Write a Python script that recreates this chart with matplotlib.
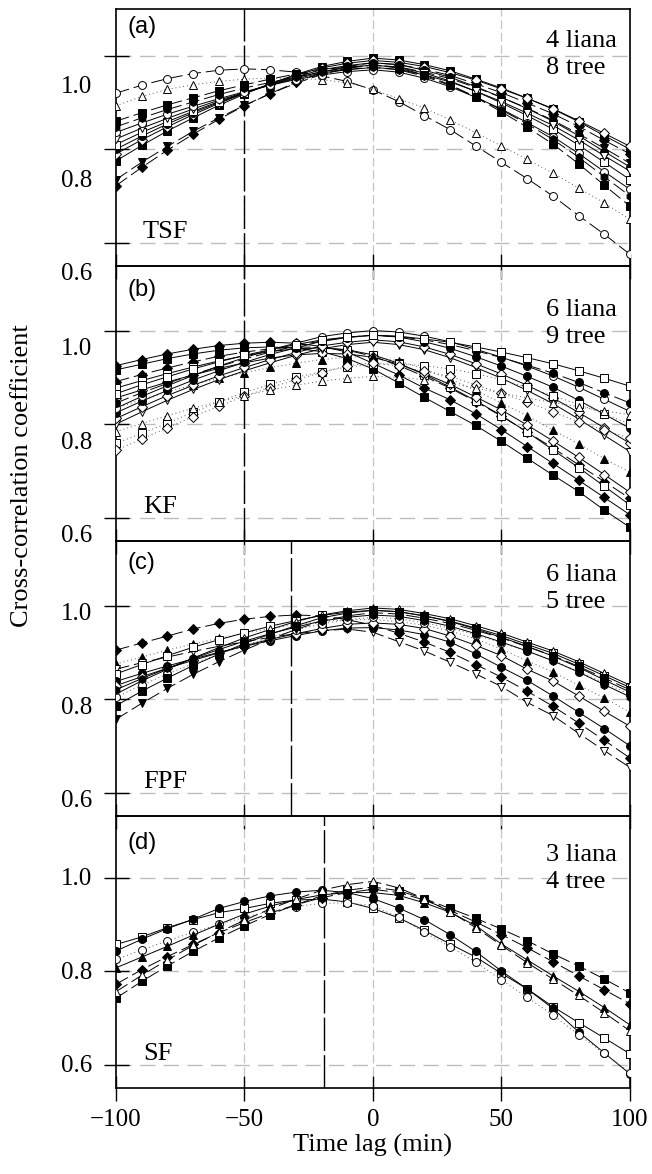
import matplotlib
matplotlib.use('Agg')
import matplotlib.pyplot as plt
from matplotlib.transforms import ScaledTranslation

plt.rcParams['font.family'] = ['Liberation Serif', 'DejaVu Serif']

# time lag (min)
lags = list(range(-100, 101, 10))

sites = ['TSF', 'KF', 'FPF', 'SF']
panel_tags = ['(a)', '(b)', '(c)', '(d)']
counts = ['4 liana\n8 tree', '6 liana\n9 tree', '6 liana\n5 tree', '3 liana\n4 tree']
peak_lag = [-50, -50, -32, -19]

# cross-correlation coefficients, one row per individual
tsf = [
    [.920, .937, .951, .962, .969, .972, .970, .965, .957, .945, .927, .902, .872, .842, .807, .772, .737, .700, .658, .618, .575],
    [.893, .913, .928, .938, .945, .950, .952, .952, .949, .942, .928, .908, .888, .863, .835, .807, .778, .749, .717, .685, .650],
    [.722, .761, .798, .832, .864, .893, .919, .943, .964, .977, .985, .981, .971, .958, .940, .921, .899, .876, .849, .819, .790],
    [.735, .772, .806, .838, .867, .894, .919, .941, .960, .973, .980, .976, .965, .951, .932, .911, .888, .862, .833, .802, .770],
    [.775, .808, .839, .867, .894, .918, .940, .960, .977, .988, .995, .991, .981, .968, .950, .931, .909, .886, .859, .829, .800],
    [.790, .820, .848, .874, .898, .920, .940, .958, .974, .984, .990, .986, .977, .964, .948, .929, .909, .887, .861, .834, .806],
    [.800, .828, .854, .878, .900, .920, .939, .955, .970, .979, .985, .981, .969, .954, .934, .911, .887, .860, .829, .795, .762],
    [.810, .836, .859, .881, .902, .921, .938, .953, .966, .975, .980, .975, .963, .946, .924, .899, .872, .843, .809, .772, .735],
    [.822, .845, .866, .886, .905, .921, .937, .951, .963, .970, .975, .971, .959, .944, .924, .902, .877, .851, .820, .786, .753],
    [.836, .856, .875, .892, .908, .923, .937, .949, .959, .966, .970, .965, .952, .934, .911, .886, .857, .827, .791, .752, .714],
    [.848, .867, .885, .901, .917, .931, .943, .955, .965, .971, .975, .970, .956, .937, .912, .884, .854, .821, .783, .741, .700],
    [.860, .878, .895, .910, .925, .938, .950, .961, .970, .976, .980, .974, .959, .938, .911, .880, .847, .811, .769, .723, .678],
]

kf = [
    [.916, .928, .940, .950, .958, .963, .965, .962, .955, .940, .918, .888, .857, .827, .797, .763, .727, .691, .656, .616, .579],
    [.925, .938, .950, .960, .968, .973, .975, .973, .966, .954, .930, .905, .877, .852, .822, .788, .752, .716, .680, .643, .606],
    [.891, .906, .920, .933, .945, .954, .961, .965, .964, .958, .945, .925, .902, .877, .848, .817, .783, .749, .713, .677, .641],
    [.877, .893, .908, .922, .935, .946, .955, .961, .963, .959, .948, .930, .906, .879, .850, .818, .783, .745, .707, .667, .627],
    [.856, .873, .890, .905, .919, .931, .941, .948, .951, .950, .943, .928, .908, .885, .858, .830, .798, .764, .729, .692, .654],
    [.834, .852, .869, .884, .898, .910, .921, .930, .938, .943, .945, .935, .918, .896, .872, .845, .818, .787, .758, .726, .697],
    [.800, .826, .851, .874, .895, .914, .931, .947, .961, .970, .975, .970, .959, .942, .921, .898, .872, .844, .811, .776, .741],
    [.812, .837, .861, .883, .903, .921, .938, .953, .967, .975, .980, .976, .965, .949, .929, .907, .883, .856, .825, .792, .759],
    [.824, .849, .872, .894, .914, .932, .949, .963, .977, .985, .990, .986, .976, .962, .944, .924, .902, .879, .851, .821, .791],
    [.834, .859, .882, .904, .924, .942, .959, .973, .987, .995, 1.00, .997, .988, .976, .960, .943, .924, .903, .879, .853, .827],
    [.845, .867, .887, .906, .923, .939, .954, .967, .978, .986, .990, .987, .980, .970, .957, .942, .926, .909, .889, .867, .845],
    [.865, .884, .901, .918, .933, .947, .959, .970, .980, .986, .990, .988, .982, .975, .965, .954, .942, .929, .914, .898, .881],
    [.759, .780, .802, .825, .848, .868, .885, .900, .912, .922, .928, .929, .925, .918, .908, .895, .879, .861, .842, .822, .800],
    [.744, .768, .792, .816, .838, .860, .878, .895, .910, .925, .931, .924, .913, .902, .884, .866, .847, .826, .805, .787, .770],
    [.784, .801, .818, .834, .848, .861, .873, .883, .892, .898, .902, .900, .895, .887, .877, .866, .856, .846, .837, .828, .820],
]

fpf = [
    [.905, .920, .935, .950, .962, .971, .977, .980, .978, .970, .958, .941, .922, .900, .874, .847, .817, .785, .749, .712, .674],
    [.875, .890, .905, .918, .930, .941, .951, .960, .966, .970, .970, .966, .958, .946, .929, .907, .882, .858, .830, .803, .772],
    [.864, .878, .890, .902, .913, .923, .932, .940, .946, .950, .943, .923, .903, .879, .854, .827, .793, .765, .727, .690, .654],
    [.854, .874, .893, .911, .927, .942, .956, .968, .979, .986, .990, .987, .978, .967, .952, .936, .917, .898, .875, .850, .825],
    [.838, .855, .871, .886, .900, .913, .925, .936, .946, .952, .953, .948, .938, .922, .897, .868, .840, .807, .772, .737, .700],
    [.829, .848, .866, .883, .899, .914, .928, .940, .951, .960, .963, .960, .951, .935, .915, .893, .864, .839, .807, .774, .742],
    [.811, .839, .864, .888, .910, .931, .949, .966, .980, .989, .995, .992, .983, .972, .957, .941, .922, .903, .880, .855, .830],
    [.804, .830, .854, .876, .896, .915, .932, .948, .961, .970, .975, .972, .963, .952, .937, .921, .902, .883, .859, .835, .810],
    [.786, .817, .845, .872, .896, .919, .939, .957, .974, .984, .990, .987, .978, .966, .950, .932, .913, .892, .868, .841, .815],
    [.757, .791, .823, .853, .880, .905, .928, .949, .967, .978, .985, .982, .973, .962, .947, .931, .912, .893, .870, .845, .820],
    [.820, .844, .866, .887, .906, .924, .940, .954, .967, .975, .980, .977, .968, .956, .940, .922, .903, .882, .858, .831, .805],
]

sf = [
    [.857, .873, .893, .910, .925, .934, .945, .952, .954, .948, .934, .914, .887, .858, .830, .795, .762, .724, .690, .657, .623],
    [.843, .868, .891, .911, .934, .949, .961, .969, .973, .968, .955, .935, .910, .878, .842, .800, .762, .720, .670, .625, .580],
    [.825, .845, .865, .883, .900, .915, .928, .938, .945, .946, .940, .915, .883, .852, .819, .781, .744, .706, .664, .624, .583],
    [.807, .830, .853, .877, .900, .922, .939, .953, .963, .968, .968, .962, .946, .926, .897, .858, .824, .790, .757, .722, .685],
    [.742, .778, .811, .842, .871, .897, .921, .942, .961, .973, .980, .972, .955, .934, .913, .890, .865, .837, .811, .783, .753],
    [.772, .803, .831, .857, .882, .904, .924, .942, .957, .968, .975, .968, .952, .930, .905, .878, .850, .820, .790, .760, .730],
    [.756, .791, .824, .855, .883, .909, .933, .954, .973, .985, .992, .978, .955, .927, .893, .855, .818, .783, .748, .711, .672],
]

# marker, filled, line style for each individual
DASH = (0, (14, 5))
DOT = (0, (1, 3))
tsf_style = [('o', 0, DASH), ('^', 0, DOT), ('D', 1, DASH), ('v', 1, DASH), ('s', 1, '-'), ('D', 0, '-'),
             ('o', 1, '-'), ('s', 0, '-'), ('v', 0, '-'), ('o', 0, '-'), ('h', 1, DASH), ('s', 1, DASH)]
kf_style = [('s', 1, '-'), ('D', 1, '-'), ('D', 1, DASH), ('s', 0, '-'), ('D', 0, '-'), ('^', 1, DOT),
            ('v', 0, '-'), ('D', 0, '-'), ('o', 1, '-'), ('o', 0, '-'), ('o', 1, DASH), ('s', 0, '-'),
            ('s', 0, DOT), ('D', 0, DOT), ('^', 0, DOT)]
fpf_style = [('D', 1, DASH), ('^', 1, DOT), ('v', 0, DASH), ('s', 0, '-'), ('o', 1, '-'), ('D', 0, '-'),
             ('^', 0, '-'), ('o', 0, DOT), ('s', 1, '-'), ('v', 1, DASH), ('h', 1, '-')]
sf_style = [('s', 0, '-'), ('o', 1, '-'), ('o', 0, DOT), ('^', 1, '-'), ('s', 1, DASH), ('D', 1, DASH),
            ('^', 0, DASH)]

panels = [(tsf, tsf_style), (kf, kf_style), (fpf, fpf_style), (sf, sf_style)]

fig = plt.figure(figsize=(6.52, 11.74), dpi=100)

# axes boxes in figure fraction: left, bottom, width, height
boxes = [(0.1779, 0.7734, 0.7883, 0.2189),
         (0.1779, 0.5392, 0.7883, 0.2342),
         (0.1779, 0.3049, 0.7883, 0.2342),
         (0.1779, 0.0733, 0.7883, 0.2317)]
ytops = [1.10, 1.138, 1.138, 1.132]
tag_y = [0.93, 0.913, 0.92, 0.90]
count_y = [0.918, 0.880, 0.916, 0.897]
label_shift = [29, 16, 6, -1]   # px, tick labels sit a bit low in the original

for i, (data, style) in enumerate(panels):
    ax = fig.add_axes(boxes[i])
    ax.patch.set_alpha(0)
    ax.set_xlim(-100, 100)
    ax.set_ylim(0.55, ytops[i])

    for vals, (mk, filled, ls) in zip(data, style):
        ms = 4.8 if mk == 'D' else 5.7
        col = '0.35' if ls == DOT else 'k'
        ax.plot(lags, vals, color=col, lw=0.7, linestyle=ls,
                marker=mk, ms=ms, mec='k', mew=0.7,
                mfc='k' if filled else 'white', zorder=3)

    for yv in [0.6, 0.8, 1.0]:
        ax.axhline(yv, color='#bdbdbd', lw=1.0, ls=(0, (11, 6)), zorder=1)
    for xv in [-50, 0, 50]:
        ax.axvline(xv, color='#c4c4c4', lw=0.9, ls=(0, (7, 3)), zorder=1)
    ax.axvline(peak_lag[i], color='k', lw=1.0, ls=(0, (24, 3)), zorder=2)

    ax.set_xticks([-100, -50, 0, 50, 100])
    ax.set_yticks([0.6, 0.8, 1.0])
    ax.set_yticklabels(['0.6', '0.8', '1.0'])
    ax.tick_params(axis='both', direction='inout', length=18, width=1.0,
                   labelsize=18, top=False, right=False)
    ax.tick_params(axis='y', pad=8)
    ax.tick_params(axis='x', pad=6)
    for sp in ax.spines.values():
        sp.set_linewidth(1.2)

    off = ScaledTranslation(0, -label_shift[i] / 100.0, fig.dpi_scale_trans)
    for lbl in ax.get_yticklabels():
        lbl.set_transform(lbl.get_transform() + off)

    if i < 3:
        ax.tick_params(axis='x', labelbottom=False)
    else:
        ax.set_xlabel('Time lag (min)', fontsize=19, labelpad=2)

    ax.text(0.023, tag_y[i], panel_tags[i], transform=ax.transAxes,
            family=['Liberation Sans', 'DejaVu Sans'], fontsize=17,
            ha='left', va='center')
    ax.text(0.837, count_y[i], counts[i], transform=ax.transAxes,
            fontsize=19, ha='left', va='top', linespacing=1.3)
    ax.text(-89.5, 0.61, sites[i], fontsize=19, ha='left', va='baseline')

fig.text(0.0345, 0.595, 'Cross-correlation coefficient', rotation=90,
         fontsize=19, ha='center', va='center')

fig.savefig('out.png', dpi=100)
